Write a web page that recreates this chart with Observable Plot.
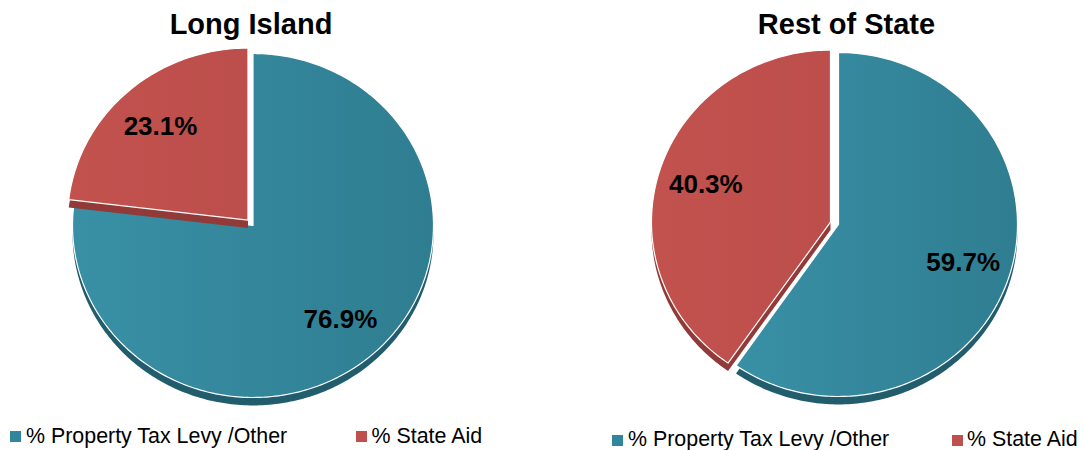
<!DOCTYPE html>
<html><head><meta charset="utf-8">
<script src="https://cdn.jsdelivr.net/npm/d3@7"></script>
<script src="https://cdn.jsdelivr.net/npm/@observablehq/plot@0.6"></script>
<style>
body{margin:0;background:#fff;font-family:"Liberation Sans",Arial,sans-serif;}
#wrap{position:relative;width:1084px;height:450px;overflow:hidden;background:#fff;}
.title{position:absolute;top:10px;font-weight:bold;font-size:29px;line-height:29px;text-align:center;width:542px;color:#000;}
.pie{position:absolute;top:40px;}
.sw{position:absolute;width:11px;height:11px;}
.lt{position:absolute;font-size:21.4px;line-height:21px;white-space:nowrap;color:#000;}
</style></head>
<body>
<svg width="0" height="0" style="position:absolute">
  <defs>
    <linearGradient id="tealGrad" x1="0" y1="0" x2="1" y2="0">
      <stop offset="0" stop-color="#3990a5"/>
      <stop offset="1" stop-color="#2f7d91"/>
    </linearGradient>
    <linearGradient id="redGrad" x1="0" y1="0" x2="1" y2="0">
      <stop offset="0" stop-color="#c2524e"/>
      <stop offset="1" stop-color="#bc4e4b"/>
    </linearGradient>
  </defs>
</svg>
<div id="wrap"></div>
<script>
// ---- data ----
const categories = ["% Property Tax Levy /Other", "% State Aid"];
const regions = ["Long Island", "Rest of State"];
const longIsland = [76.9, 23.1];
const restOfState = [59.7, 40.3];
const labels = ["76.9%", "23.1%", "59.7%", "40.3%"];

// ---- styles ----
const topFill = ["url(#tealGrad)", "url(#redGrad)"];
const sideFill = ["#215d6d", "#923a38"];
const legendColor = ["#31859c", "#c0504d"];

const wrap = document.getElementById("wrap");

function pieRows(values, explode, depth) {
  const arcs = d3.pie().sort(null).value(d => d)(values);
  const faces = [], sides = [];
  arcs.forEach((a, i) => {
    const mid = (a.startAngle + a.endAngle) / 2;
    const e = i === 1 ? explode : 0;
    const ox = e * Math.sin(mid), oy = e * Math.cos(mid);
    const n = Math.max(2, Math.ceil((a.endAngle - a.startAngle) / (Math.PI / 180)));
    const pts = [[ox, oy]];
    for (let k = 0; k <= n; k++) {
      const t = a.startAngle + (a.endAngle - a.startAngle) * k / n;
      pts.push([ox + Math.sin(t), oy + Math.cos(t)]);
    }
    pts.push([ox, oy]);
    pts.forEach(([x, y]) => {
      faces.push({id: "f" + i, x, y, fill: topFill[i]});
      sides.push({id: "s" + i, x, y: y - depth, fill: sideFill[i]});
    });
  });
  return {arcs, faces, sides};
}

function drawPie(values, labelTexts, opts) {
  const {arcs, faces, sides} = pieRows(values, opts.explode, opts.depth);
  const labelRows = arcs.map((a, i) => {
    const mid = (a.startAngle + a.endAngle) / 2;
    const r = 0.73 + (i === 1 ? opts.explode : 0);
    return {x: r * Math.sin(mid), y: r * Math.cos(mid), text: labelTexts[i]};
  });
  const marks = [];
  [0, 1].forEach(i => {
    marks.push(Plot.line(sides.filter(d => d.id === "s" + i), {x: "x", y: "y", z: "id", fill: "fill", stroke: null}));
    marks.push(Plot.line(faces.filter(d => d.id === "f" + i), {x: "x", y: "y", z: "id", fill: "fill", stroke: "white", strokeWidth: 1.2, strokeLinejoin: "round"}));
  });
  marks.push(Plot.text(labelRows, {x: "x", y: "y", text: "text", fontSize: 26, fontWeight: "bold", fill: "#000", fontFamily: "Liberation Sans, Arial, sans-serif"}));
  const chart = Plot.plot({
    width: 542, height: 375,
    margin: 0,
    x: {domain: [-1, 1], range: [opts.cx - opts.rx, opts.cx + opts.rx], axis: null},
    y: {domain: [-1, 1], range: [opts.cy + opts.ry, opts.cy - opts.ry], axis: null},
    color: {type: "identity"},
    style: {background: "transparent", overflow: "visible"},
    marks
  });
  chart.classList.add("pie");
  chart.style.left = opts.left + "px";
  wrap.appendChild(chart);
}

drawPie(longIsland, labels.slice(0, 2), {left: 0, cx: 252.5, cy: 185, rx: 180.5, ry: 172, explode: 0.042, depth: 0.046});
drawPie(restOfState, labels.slice(2, 4), {left: 542, cx: 296, cy: 184, rx: 179, ry: 172, explode: 0.047, depth: 0.046});

// ---- titles ----
function addTitle(text, center) {
  const d = document.createElement("div");
  d.className = "title";
  d.textContent = text;
  d.style.left = (center - 271) + "px";
  wrap.appendChild(d);
}
addTitle(regions[0], 251);
addTitle(regions[1], 846.5);

// ---- legends ----
function addLegend(items) {
  items.forEach(([i, sx, sy, tx, ty]) => {
    const s = document.createElement("div");
    s.className = "sw";
    s.style.left = sx + "px"; s.style.top = sy + "px";
    s.style.background = legendColor[i];
    wrap.appendChild(s);
    const t = document.createElement("div");
    t.className = "lt";
    t.textContent = categories[i];
    t.style.left = tx + "px"; t.style.top = ty + "px";
    wrap.appendChild(t);
  });
}
addLegend([[0, 10, 431, 26, 426], [1, 356, 431, 371.5, 426]]);
addLegend([[0, 612, 435, 628, 429], [1, 951.5, 435, 967, 429]]);
</script>
</body></html>
